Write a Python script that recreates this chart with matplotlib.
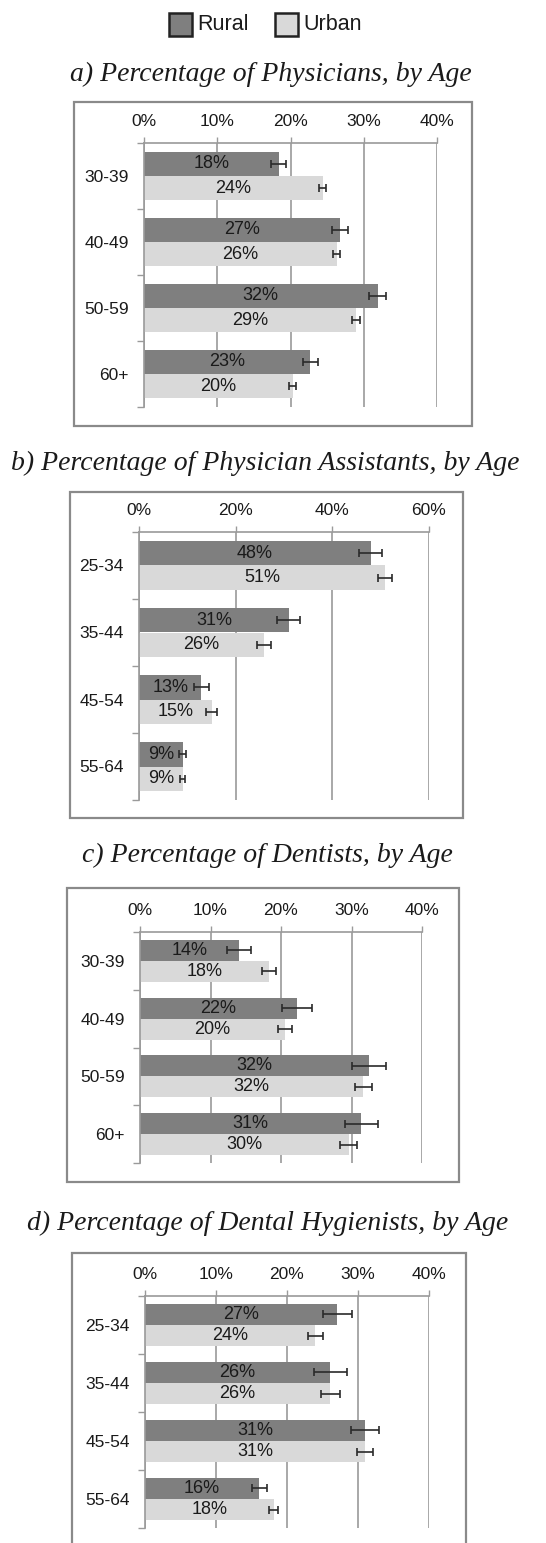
import matplotlib
matplotlib.use("Agg")
import matplotlib.pyplot as plt
from matplotlib.patches import Rectangle

W, H = 546, 1543
DPI = 100

# age groups per panel
ages_a = ["30-39", "40-49", "50-59", "60+"]
ages_b = ["25-34", "35-44", "45-54", "55-64"]
ages_c = ["30-39", "40-49", "50-59", "60+"]
ages_d = ["25-34", "35-44", "45-54", "55-64"]

# bar values (%)
rural_a = [18.4, 26.8, 31.9, 22.7]
urban_a = [24.4, 26.3, 28.9, 20.3]
rural_b = [47.9, 31.0, 12.9, 9.0]
urban_b = [50.9, 25.9, 15.0, 9.0]
rural_c = [14.0, 22.3, 32.5, 31.4]
urban_c = [18.3, 20.6, 31.7, 29.6]
rural_d = [27.1, 26.1, 31.0, 16.1]
urban_d = [24.0, 26.1, 31.0, 18.1]

# error half-widths (%)
rural_err_a = [1.0, 1.1, 1.2, 1.05]
urban_err_a = [0.5, 0.5, 0.55, 0.5]
rural_err_b = [2.4, 2.4, 1.6, 0.7]
urban_err_b = [1.5, 1.5, 1.1, 0.6]
rural_err_c = [1.7, 2.1, 2.4, 2.3]
urban_err_c = [1.0, 1.0, 1.2, 1.2]
rural_err_d = [2.0, 2.3, 2.0, 1.1]
urban_err_d = [1.1, 1.3, 1.1, 0.65]

# value labels shown on bars
rural_lbl_a = ["18%", "27%", "32%", "23%"]
urban_lbl_a = ["24%", "26%", "29%", "20%"]
rural_lbl_b = ["48%", "31%", "13%", "9%"]
urban_lbl_b = ["51%", "26%", "15%", "9%"]
rural_lbl_c = ["14%", "22%", "32%", "31%"]
urban_lbl_c = ["18%", "20%", "32%", "30%"]
rural_lbl_d = ["27%", "26%", "31%", "16%"]
urban_lbl_d = ["24%", "26%", "31%", "18%"]

titles = [
    "a) Percentage of Physicians, by Age",
    "b) Percentage of Physician Assistants, by Age",
    "c) Percentage of Dentists, by Age",
    "d) Percentage of Dental Hygienists, by Age",
]

RURAL = "#7f7f7f"
URBAN = "#d9d9d9"
GRID = "#9a9a9a"
BOX = "#8a8a8a"
SANS = ["Liberation Sans", "DejaVu Sans"]
SERIF = ["Liberation Serif", "DejaVu Serif"]

fig = plt.figure(figsize=(W / DPI, H / DPI), dpi=DPI)


def fx(x):
    return x / W


def fy(y):
    return 1 - y / H


def add_box(x0, y0, x1, y1):
    fig.add_artist(Rectangle((fx(x0), fy(y1)), fx(x1 - x0), (y1 - y0) / H,
                             transform=fig.transFigure, fill=False,
                             ec=BOX, lw=1.6))


def panel(title, title_xy, box, axbox, ages, rural, urban, rerr, uerr,
          rlbl, ulbl, xmax, xstep):
    fig.text(fx(title_xy[0]), fy(title_xy[1]), title, ha="center", va="center",
             family=SERIF, style="italic", fontsize=20, color="#1a1a1a")
    add_box(*box)
    l, t, r, b = axbox
    ax = fig.add_axes([fx(l), fy(b), fx(r - l), (b - t) / H])
    n = len(ages)
    h = 0.365
    yr = [i + 0.5 - h / 2 for i in range(n)]
    yu = [i + 0.5 + h / 2 for i in range(n)]
    ax.barh(yr, rural, height=h, color=RURAL, zorder=2)
    ax.barh(yu, urban, height=h, color=URBAN, zorder=2)
    ekw = dict(fmt="none", ecolor="#2a2a2a", elinewidth=1.2, capsize=3,
               capthick=1.2, zorder=3)
    ax.errorbar(rural, yr, xerr=rerr, **ekw)
    ax.errorbar(urban, yu, xerr=uerr, **ekw)
    for y, v, s in zip(yr, rural, rlbl):
        ax.text(v / 2, y, s, ha="center", va="center", fontsize=13,
                family=SANS, color="#1a1a1a", zorder=4)
    for y, v, s in zip(yu, urban, ulbl):
        ax.text(v / 2, y, s, ha="center", va="center", fontsize=13,
                family=SANS, color="#1a1a1a", zorder=4)
    ax.set_xlim(0, xmax)
    ax.set_ylim(n, 0)
    xt = list(range(0, xmax + 1, xstep))
    ax.set_xticks(xt)
    ax.set_xticklabels([f"{v}%" for v in xt], family=SANS, fontsize=12.5,
                       color="#1a1a1a")
    ax.xaxis.tick_top()
    ax.tick_params(axis="x", length=4, width=1, color=GRID, pad=6)
    ax.set_yticks(range(n + 1))
    ax.set_yticklabels([])
    ax.set_yticks([i + 0.5 for i in range(n)], minor=True)
    ax.set_yticklabels(ages, minor=True, family=SANS, fontsize=12.5,
                       color="#1a1a1a")
    ax.tick_params(axis="y", which="major", length=5, width=1, color=GRID)
    ax.tick_params(axis="y", which="minor", length=0, pad=11)
    ax.grid(axis="x", color=GRID, lw=1.2, zorder=0)
    for side in ["right", "bottom"]:
        ax.spines[side].set_visible(False)
    for side in ["top", "left"]:
        ax.spines[side].set_color(GRID)
        ax.spines[side].set_linewidth(1.2)
    ax.set_facecolor("none")
    return ax


panel(titles[0], (271, 74), (74, 102, 472, 426), (144, 143, 437, 407),
      ages_a, rural_a, urban_a, rural_err_a, urban_err_a,
      rural_lbl_a, urban_lbl_a, 40, 10)
panel(titles[1], (265, 463), (70, 492, 463, 818), (139, 532, 429, 800),
      ages_b, rural_b, urban_b, rural_err_b, urban_err_b,
      rural_lbl_b, urban_lbl_b, 60, 20)
panel(titles[2], (267, 855), (67, 888, 459, 1182), (140, 932, 422, 1163),
      ages_c, rural_c, urban_c, rural_err_c, urban_err_c,
      rural_lbl_c, urban_lbl_c, 40, 10)
panel(titles[3], (268, 1223), (72, 1253, 466, 1600), (145, 1296, 429, 1528),
      ages_d, rural_d, urban_d, rural_err_d, urban_err_d,
      rural_lbl_d, urban_lbl_d, 40, 10)

# legend drawn by hand at the top
for x0, col, name in [(169, RURAL, "Rural"), (275, URBAN, "Urban")]:
    fig.add_artist(Rectangle((fx(x0), fy(36)), fx(23), 23 / H,
                             transform=fig.transFigure, fc=col,
                             ec="#222222", lw=1.8))
    fig.text(fx(x0 + 28), fy(25), name, ha="left", va="center",
             family=SANS, fontsize=15.5, color="#1a1a1a")

fig.savefig("out.png", dpi=DPI)
